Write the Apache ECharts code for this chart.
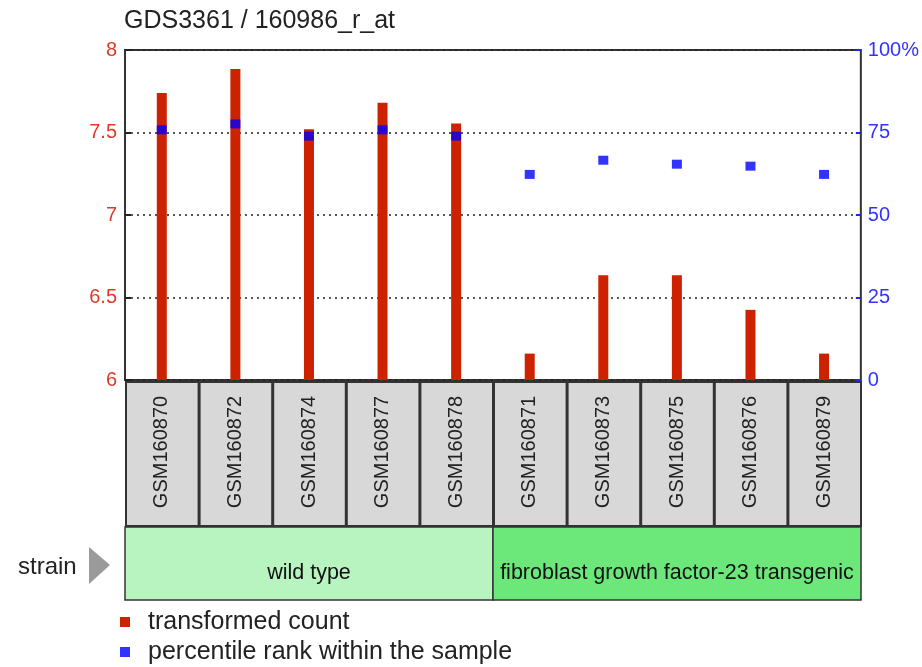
<!DOCTYPE html>
<html>
<head>
<meta charset="utf-8">
<script src="https://cdn.jsdelivr.net/npm/echarts@6/dist/echarts.min.js"></script>
<style>
  html, body { margin: 0; padding: 0; background: #fff; }
  #chart { width: 922px; height: 667px; }
</style>
</head>
<body>
<div id="chart"></div>
<script>
// 样本名称
var samples = ['GSM160870', 'GSM160872', 'GSM160874', 'GSM160877', 'GSM160878',
               'GSM160871', 'GSM160873', 'GSM160875', 'GSM160876', 'GSM160879'];
// transformed count
var counts = [7.74, 7.885, 7.52, 7.68, 7.555, 6.16, 6.635, 6.635, 6.425, 6.16];
// percentile rank
var percentiles = [75.8, 77.6, 73.9, 75.8, 73.9, 62.3, 66.6, 65.4, 64.8, 62.3];
// strain 分组
var strainNames = ['wild type', 'fibroblast growth factor-23 transgenic'];
var strainStart = [0, 5];
var strainEnd = [4, 9];
var strainColors = ['#b8f4c0', '#6ce87a'];
// 刻度
var leftTicks = [6, 8];
var rightTicks = [0, 100];

var FONT = 'Liberation Sans, Arial, sans-serif';

var option = {
    animation: false,
    title: {
        text: 'GDS3361 / 160986_r_at',
        left: 124,
        top: 9,
        padding: 0,
        textStyle: { fontSize: 25, fontWeight: 'normal', color: '#222', fontFamily: FONT }
    },
    legend: {
        orient: 'vertical',
        left: 120,
        top: 609,
        padding: 0,
        itemWidth: 10,
        itemHeight: 10,
        itemGap: 4,
        icon: 'rect',
        selectedMode: false,
        textStyle: { fontSize: 25, lineHeight: 26, color: '#222', fontFamily: FONT, padding: [0, 0, 0, 13] },
        data: ['transformed count', 'percentile rank within the sample']
    },
    grid: [
        { left: 125, top: 50, width: 736, height: 330, show: true, borderColor: '#333', borderWidth: 2 },
        { left: 125, top: 381, width: 736, height: 219 }
    ],
    xAxis: [{
        type: 'category',
        gridIndex: 0,
        data: samples,
        axisLine: { show: false },
        axisTick: { show: true, inside: true, length: 5, alignWithLabel: true, lineStyle: { color: '#222', width: 2 } },
        axisLabel: { show: false }
    }, {
        type: 'category',
        gridIndex: 1,
        data: samples,
        show: false
    }],
    yAxis: [{
        type: 'value',
        gridIndex: 0,
        min: leftTicks[0],
        max: leftTicks[1],
        interval: 0.5,
        axisLine: { show: false },
        axisTick: { show: true, inside: true, length: 6, lineStyle: { color: '#222', width: 2 } },
        axisLabel: { color: '#e03a28', fontSize: 20, fontFamily: FONT, margin: 8 },
        splitLine: { show: true, lineStyle: { color: '#222', type: [2, 4], width: 1.5 } }
    }, {
        type: 'value',
        gridIndex: 0,
        position: 'right',
        min: rightTicks[0],
        max: rightTicks[1],
        interval: 25,
        axisLine: { show: false },
        axisTick: { show: true, inside: true, length: 5, lineStyle: { color: '#2222ff', width: 2 } },
        axisLabel: {
            color: '#3333ff', fontSize: 20, fontFamily: FONT, margin: 7,
            formatter: function(v) { return v === 100 ? '100%' : v; }
        },
        splitLine: { show: false }
    }, {
        type: 'value',
        gridIndex: 1,
        min: 0,
        max: 3,
        show: false
    }],
    series: [{
        name: 'transformed count',
        type: 'bar',
        xAxisIndex: 0,
        yAxisIndex: 0,
        barWidth: 10,
        itemStyle: { color: '#cc2200' },
        data: counts
    }, {
        name: 'percentile rank within the sample',
        type: 'scatter',
        xAxisIndex: 0,
        yAxisIndex: 1,
        symbol: 'rect',
        symbolSize: [10, 9],
        itemStyle: { color: '#0000ff' },
        z: 5,
        data: percentiles
    }, {
        // 样本标签框
        type: 'custom',
        xAxisIndex: 1,
        yAxisIndex: 2,
        silent: true,
        data: samples.map(function(s, i) { return [i, s]; }),
        renderItem: function(params, api) {
            var i = api.value(0);
            var top = api.coord([i, 3]);
            var bottom = api.coord([i, 1]);
            var bw = api.size([1, 0])[0];
            var x0 = top[0] - bw / 2;
            return {
                type: 'group',
                children: [{
                    type: 'rect',
                    shape: { x: x0 + 1, y: top[1] + 1, width: bw - 1, height: bottom[1] - top[1] - 2 },
                    style: { fill: '#d8d8d8', stroke: '#333', lineWidth: 2 }
                }, {
                    type: 'text',
                    x: top[0],
                    y: (top[1] + bottom[1]) / 2 - 2,
                    rotation: Math.PI / 2,
                    style: {
                        text: samples[i],
                        fill: '#222',
                        fontSize: 20,
                        fontFamily: FONT,
                        align: 'center',
                        verticalAlign: 'middle'
                    }
                }]
            };
        }
    }, {
        // strain 分组
        type: 'custom',
        xAxisIndex: 1,
        yAxisIndex: 2,
        silent: true,
        data: strainNames.map(function(n, k) { return [strainStart[k], strainEnd[k], k]; }),
        renderItem: function(params, api) {
            var k = api.value(2);
            var bw = api.size([1, 0])[0];
            var a = api.coord([api.value(0), 1]);
            var b = api.coord([api.value(1), 0]);
            var x0 = a[0] - bw / 2;
            var x1 = b[0] + bw / 2;
            var ty = api.coord([api.value(0), 0.37])[1];
            return {
                type: 'group',
                children: [{
                    type: 'rect',
                    shape: { x: x0, y: a[1], width: x1 - x0, height: b[1] - a[1] },
                    style: { fill: strainColors[k], stroke: '#333', lineWidth: 1.5 }
                }, {
                    type: 'text',
                    x: (x0 + x1) / 2,
                    y: ty,
                    style: {
                        text: strainNames[k],
                        fill: '#111',
                        fontSize: 21.5,
                        fontFamily: FONT,
                        align: 'center',
                        verticalAlign: 'middle'
                    }
                }]
            };
        }
    }],
    graphic: [{
        type: 'text',
        left: 18,
        top: 555,
        style: { text: 'strain', fontSize: 24, fontFamily: FONT, fill: '#222' }
    }, {
        type: 'polygon',
        shape: { points: [[89, 547], [110, 565], [89, 584]] },
        style: { fill: '#9a9a9a' }
    }]
};

var myChart = echarts.init(document.getElementById('chart'));
myChart.setOption(option);
</script>
</body>
</html>
